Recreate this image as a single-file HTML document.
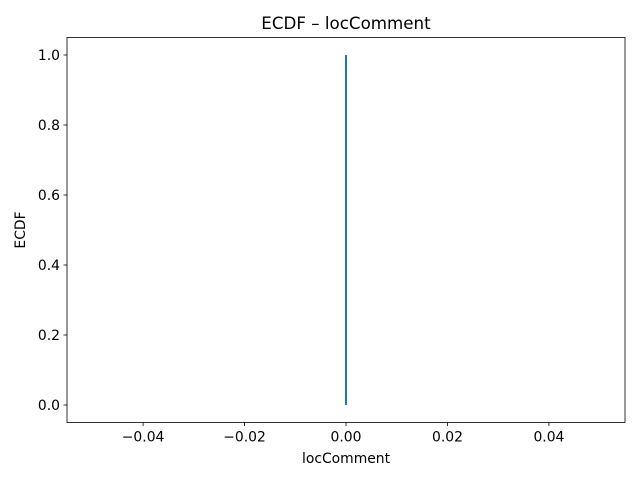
<!DOCTYPE html>
<html><head><meta charset="utf-8"><style>
body{margin:0;background:#fff;font-family:"Liberation Sans","DejaVu Sans",sans-serif}
</style></head><body>
<svg width="640" height="480" viewBox="0 0 640 480" font-family="DejaVu Sans, Liberation Sans, sans-serif">
<rect width="640" height="480" fill="#fff"/>
<text x="346" y="29" text-anchor="middle" font-size="16.7">ECDF – locComment</text>
<g id="plot"></g>
<rect x="67" y="37.5" width="558" height="385" fill="none" stroke="#000" stroke-width="0.8"/>
<text x="346" y="463" text-anchor="middle" font-size="13.9">locComment</text>
<text transform="translate(25,230) rotate(-90)" text-anchor="middle" font-size="13.9">ECDF</text>
</svg>
<script>
const xValues=[0,0];
const yValues=[0,1];
const xTicks=[-0.04,-0.02,0,0.02,0.04];
const yTicks=[0,0.2,0.4,0.6,0.8,1.0];
const L=67,R=625,T=37.5,B=422.5;
const xs=v=>L+(v+0.055)/0.11*(R-L);
const ys=v=>B-(v+0.05)/1.1*(B-T);
const NS="http://www.w3.org/2000/svg";
const g=document.getElementById('plot');
function mk(t,a){const e=document.createElementNS(NS,t);for(const k in a)e.setAttribute(k,a[k]);g.appendChild(e);return e;}
xTicks.forEach(v=>{
 const l=mk('line',{x1:xs(v),x2:xs(v),y1:B,y2:B+3.5,stroke:'#000','stroke-width':0.8});
 
 
 const t=mk('text',{x:xs(v),y:B+19,'text-anchor':'middle','font-size':13.9});
 t.textContent=(v<0?'\u2212':'')+Math.abs(v).toFixed(2);
 
 
});
yTicks.forEach(v=>{
 const l=mk('line',{x1:L-3.5,x2:L,y1:ys(v),y2:ys(v),stroke:'#000','stroke-width':0.8});
 
 
 const t=mk('text',{x:L-7,y:ys(v)+5,'text-anchor':'end','font-size':13.9});
 t.textContent=v.toFixed(1);
 
 
});
const p=mk('polyline',{points:xValues.map((x,i)=>xs(x)+','+ys(yValues[i])).join(' '),fill:'none',stroke:'#1f77b4','stroke-width':2});


</script>
</body></html>
